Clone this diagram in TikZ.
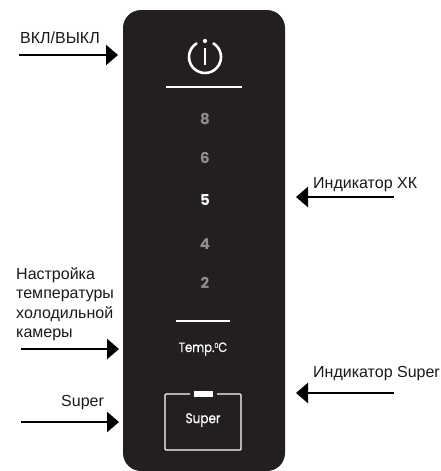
\documentclass[tikz,border=0pt]{standalone}
\usepackage{fontspec}
\setmainfont{Liberation Sans}
\newfontfamily\panelfont[FakeStretch=0.86,FakeBold=0.6]{Poppins}
\newfontfamily\digitfont{Poppins}
\usetikzlibrary{arrows.meta}
\definecolor{panelblack}{HTML}{231F20}
\definecolor{digitgray}{HTML}{8E8E8E}
\tikzset{
	lbl/.style={inner sep=0pt,font=\fontsize{16}{19.5}\selectfont,text=black!90},
	digit/.style={inner sep=0pt,text=digitgray,font=\digitfont\fontsize{15}{17}\selectfont\bfseries},
	paneltext/.style={inner sep=0pt,text=white,font=\panelfont\fontsize{13.5}{15}\selectfont},
	callout/.style={line width=2.6pt,-{Triangle[length=12pt,width=20pt]}},
	panelline/.style={white,line width=1.5pt}
}
\begin{document}
\begin{tikzpicture}[x=1pt,y=-1pt,line join=round]
	\useasboundingbox (0,0) rectangle (441,471);
	\path
	(123,10) coordinate (PanelTL)
	(285,471) coordinate (PanelBR)
	(19,55) coordinate (OnA)
	(118,55) coordinate (OnB)
	(21,349) coordinate (TempA)
	(119,349) coordinate (TempB)
	(21,422) coordinate (SuperA)
	(119,422) coordinate (SuperB)
	(394,197) coordinate (XkA)
	(296,197) coordinate (XkB)
	(394,393) coordinate (IndA)
	(296,393) coordinate (IndB)
	(205,57) coordinate (P);
	% panel
	\fill[panelblack,rounded corners=18pt] (PanelTL) rectangle (PanelBR);
	% power symbol
	\draw[white,line width=2.6pt,line cap=round] (P)++(-58:16) arc (-58:238:16);
	\draw[white,line width=1.9pt] (205,48)--(205,65);
	\fill[white] (205,41) circle (2.1);
	\draw[panelline] (166,87)--(242,87);
	% scale
	\node[digit] (d8) at (205,119) {8};
	\node[digit] (d6) at (205,158) {6};
	\node[digit,text=white] (d5) at (205,200) {5};
	\node[digit] (d4) at (205,244) {4};
	\node[digit] (d2) at (205,283) {2};
	\draw[panelline] (176,321)--(230,321);
	\node[paneltext] (temp) at (203,349) {Temp.\raisebox{4pt}{\fontsize{7}{8}\selectfont 0}C};
	% super button
	\draw[white,line width=1.2pt,rounded corners=1pt] (190,394)--(165,394)--(165,450)--(241,450)--(241,394)--(217,394);
	\fill[white] (194,391) rectangle (213,397);
	\node[paneltext,font=\panelfont\fontsize{14}{15}\selectfont] (super) at (203,420) {Super};
	% labels
	\node[lbl,anchor=west] (on) at (20,38) {ВКЛ/ВЫКЛ};
	\node[lbl,anchor=north west,align=left] (setup) at (16,267) {Настройка\\температуры\\холодильной\\камеры};
	\node[lbl,anchor=west] (sup) at (61,403) {Super};
	\node[lbl,anchor=west] (xk) at (313,185) {Индикатор ХК};
	\node[lbl,anchor=west] (ind) at (313,374) {Индикатор Super};
	% arrows
	\draw[callout] (OnA)--(OnB);
	\draw[callout] (TempA)--(TempB);
	\draw[callout] (SuperA)--(SuperB);
	\draw[callout] (XkA)--(XkB);
	\draw[callout] (IndA)--(IndB);
\end{tikzpicture}
\end{document}
